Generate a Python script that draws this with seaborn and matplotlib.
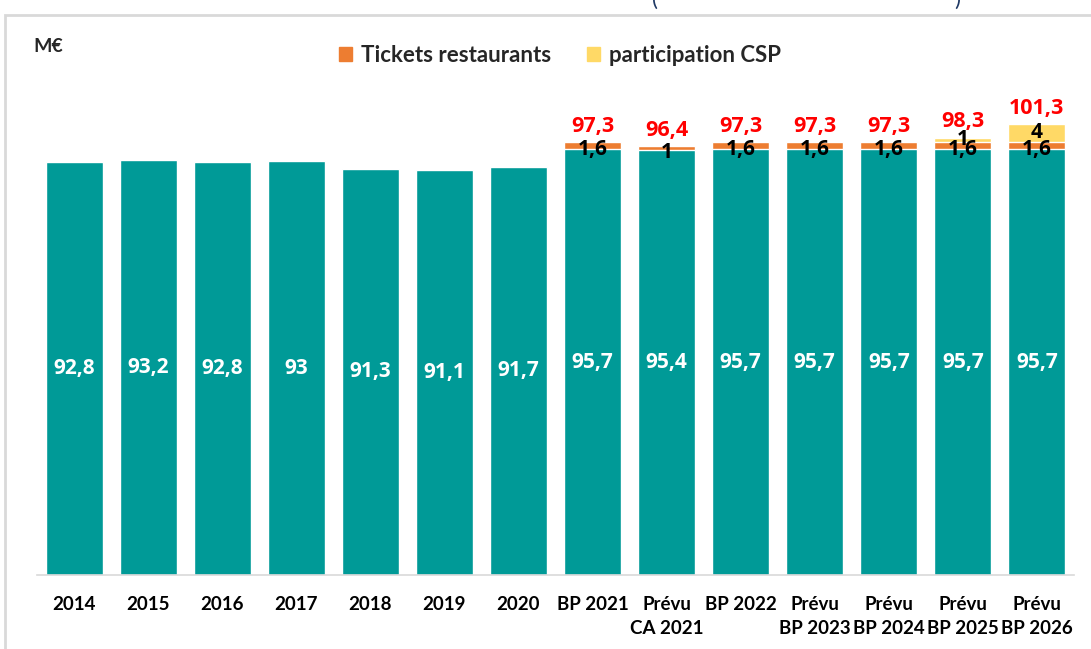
import numpy as np
import pandas as pd
import matplotlib
matplotlib.use("Agg")
import matplotlib.pyplot as plt
import matplotlib.patches as mpatches
import seaborn as sns

# data
categories = ["2014", "2015", "2016", "2017", "2018", "2019", "2020", "BP 2021",
              "Prévu\nCA 2021", "BP 2022", "Prévu\nBP 2023", "Prévu\nBP 2024",
              "Prévu\nBP 2025", "Prévu\nBP 2026"]
base_values = [92.8, 93.2, 92.8, 93, 91.3, 91.1, 91.7, 95.7, 95.4, 95.7, 95.7, 95.7, 95.7, 95.7]
tickets = [0, 0, 0, 0, 0, 0, 0, 1.6, 1, 1.6, 1.6, 1.6, 1.6, 1.6]
csp = [0, 0, 0, 0, 0, 0, 0, 0, 0, 0, 0, 0, 1, 4]
totals_shown = [None, None, None, None, None, None, None, 97.3, 96.4, 97.3, 97.3, 97.3, 98.3, 101.3]

TEAL = "#009A97"
ORANGE = "#ED7D31"
YELLOW = "#FFD966"

df = pd.DataFrame({"cat": categories, "base": base_values, "tickets": tickets, "csp": csp})
df["lvl2"] = df["base"] + df["tickets"]
df["lvl3"] = df["lvl2"] + df["csp"]

sns.set_theme(style="white")
plt.rcParams["font.family"] = ["Lato", "DejaVu Sans"]
VAL_FONT = ["Open Sans", "DejaVu Sans"]

fig = plt.figure(figsize=(10.91, 6.49), dpi=100)
ax = fig.add_axes([37 / 1091, 74 / 649, 1037 / 1091, (575 - 85.5) / 649])

# stacked bars, drawn from the total down
sns.barplot(data=df, x="cat", y="lvl3", color=YELLOW, width=0.77, saturation=1, ax=ax)
sns.barplot(data=df, x="cat", y="lvl2", color=ORANGE, width=0.77, saturation=1, ax=ax)
sns.barplot(data=df, x="cat", y="base", color=TEAL, width=0.77, saturation=1, ax=ax)

ax.set_ylim(0, 110)
ax.set_xlim(-0.5, 13.5)
ax.set_xlabel("")
ax.set_ylabel("")
ax.set_yticks([])
for s in ["top", "right", "left"]:
    ax.spines[s].set_visible(False)
ax.spines["bottom"].set_color("#d9d9d9")
ax.spines["bottom"].set_linewidth(1.2)
ax.tick_params(axis="x", length=0, pad=15)
for lab in ax.get_xticklabels():
    lab.set_fontweight("bold")
    lab.set_fontsize(13.5)
    lab.set_color("black")
    lab.set_linespacing(1.5)
    lab.set_verticalalignment("top")

def fmt(v):
    s = f"{v:g}"
    return s.replace(".", ",")

for i in range(len(categories)):
    b = base_values[i]
    ax.text(i, b / 2, fmt(b), ha="center", va="center", color="white",
            fontsize=15, fontweight="bold", family=VAL_FONT)
    if tickets[i] > 0:
        ax.text(i, b + tickets[i] / 2 - 0.9, fmt(tickets[i]), ha="center", va="center",
                color="black", fontsize=15, fontweight="bold", family=VAL_FONT)
    if csp[i] > 0:
        ax.text(i, b + tickets[i] + csp[i] / 2 + 0.1, fmt(csp[i]), ha="center", va="center",
                color="black", fontsize=15, fontweight="bold", family=VAL_FONT)
    if totals_shown[i] is not None:
        ax.text(i, b + tickets[i] + csp[i] + 1.2, fmt(totals_shown[i]), ha="center", va="bottom",
                color="#FF0000", fontsize=15.5, fontweight="bold", family=VAL_FONT)

# legend
handles = [mpatches.Patch(color=ORANGE, label="Tickets restaurants"),
           mpatches.Patch(color=YELLOW, label="participation CSP")]
fig.legend(handles=handles, loc="center", bbox_to_anchor=(560 / 1091, 1 - 55 / 649), ncol=2,
           frameon=False, prop={"weight": "bold", "size": 16}, handlelength=0.6,
           handleheight=0.6, handletextpad=0.4, columnspacing=1.6)

fig.text(33 / 1091, 1 - 47 / 649, "M€", fontsize=14, fontweight="bold", va="center", ha="left")

# frame around the chart area and clipped title
fig.patches.append(mpatches.Rectangle((5 / 1091, -0.1), 1.2, 1 - 15 / 649 + 0.1, fill=False,
                                      edgecolor="#d9d9d9", linewidth=2, transform=fig.transFigure))
fig.text(655 / 1091, 1.0, "(", color="#1F3864", fontsize=16, va="center", ha="center")
fig.text(957 / 1091, 1.0, ")", color="#1F3864", fontsize=16, va="center", ha="center")

fig.savefig("out.png", dpi=100)
